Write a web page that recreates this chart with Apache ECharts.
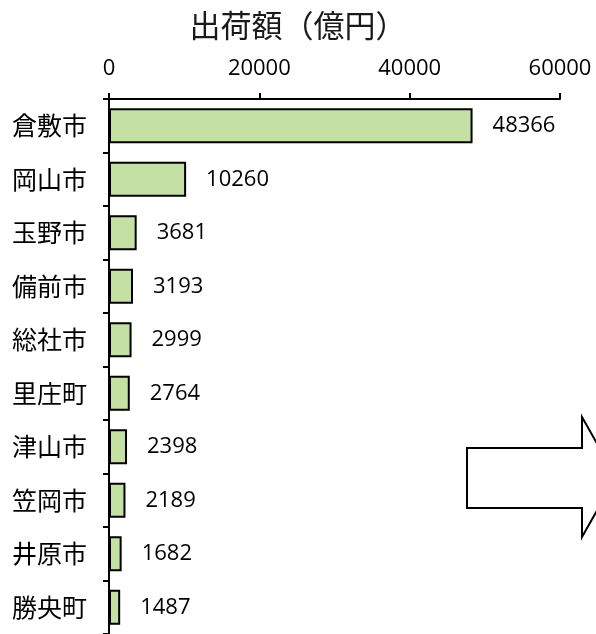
<!DOCTYPE html>
<html>
<head>
<meta charset="utf-8">
<script src="https://cdn.jsdelivr.net/npm/echarts@6/dist/echarts.min.js"></script>
<style>html,body{margin:0;padding:0;background:#fff;}#c{width:596px;height:634px;}</style>
</head>
<body>
<div id="c"></div>
<script>
const titleText = '出荷額（億円）';
const categories = ['倉敷市','岡山市','玉野市','備前市','総社市','里庄町','津山市','笠岡市','井原市','勝央町'];
const values = [48366, 10260, 3681, 3193, 2999, 2764, 2398, 2189, 1682, 1487];
const axisMin = 0, axisMax = 60000, axisStep = 20000;

const chart = echarts.init(document.getElementById('c'), null, {renderer: 'canvas'});
chart.setOption({
  animation: false,
  backgroundColor: '#ffffff',
  title: {
    text: titleText, left: 'center', top: 5,
    textStyle: {fontFamily: 'Noto Sans CJK JP', fontSize: 31, fontWeight: 'normal', color: '#1a1a1a'}
  },
  grid: {left: 109, right: 36, top: 99, bottom: -3, containLabel: false},
  xAxis: {
    type: 'value', position: 'top', min: axisMin, max: axisMax, interval: axisStep,
    axisLine: {show: true, lineStyle: {color: '#000', width: 2}},
    axisTick: {show: true, inside: false, length: 6, lineStyle: {color: '#000', width: 2}},
    axisLabel: {margin: 19, fontFamily: 'Open Sans', fontSize: 22, color: '#000', formatter: v => String(v)},
    splitLine: {show: false}
  },
  yAxis: {
    type: 'category', data: categories, inverse: true,
    axisLine: {show: true, lineStyle: {color: '#000', width: 2}},
    axisTick: {show: true, inside: false, length: 6, alignWithLabel: false, lineStyle: {color: '#000', width: 2}},
    axisLabel: {margin: 22, fontFamily: 'Noto Sans CJK JP', fontSize: 25, color: '#000'}
  },
  series: [{
    type: 'bar', data: values, barCategoryGap: '35%',
    itemStyle: {color: '#c5e0a3', borderColor: '#000', borderWidth: 2},
    label: {show: true, position: 'right', distance: 20, fontFamily: 'Open Sans', fontSize: 22, color: '#000'}
  }],
  graphic: [{
    type: 'polygon', z: 10,
    shape: {points: [[467,448],[582,448],[582,417],[616,477],[582,537],[582,508],[467,508]]},
    style: {fill: '#ffffff', stroke: '#000', lineWidth: 2}
  }]
});
</script>
</body>
</html>
